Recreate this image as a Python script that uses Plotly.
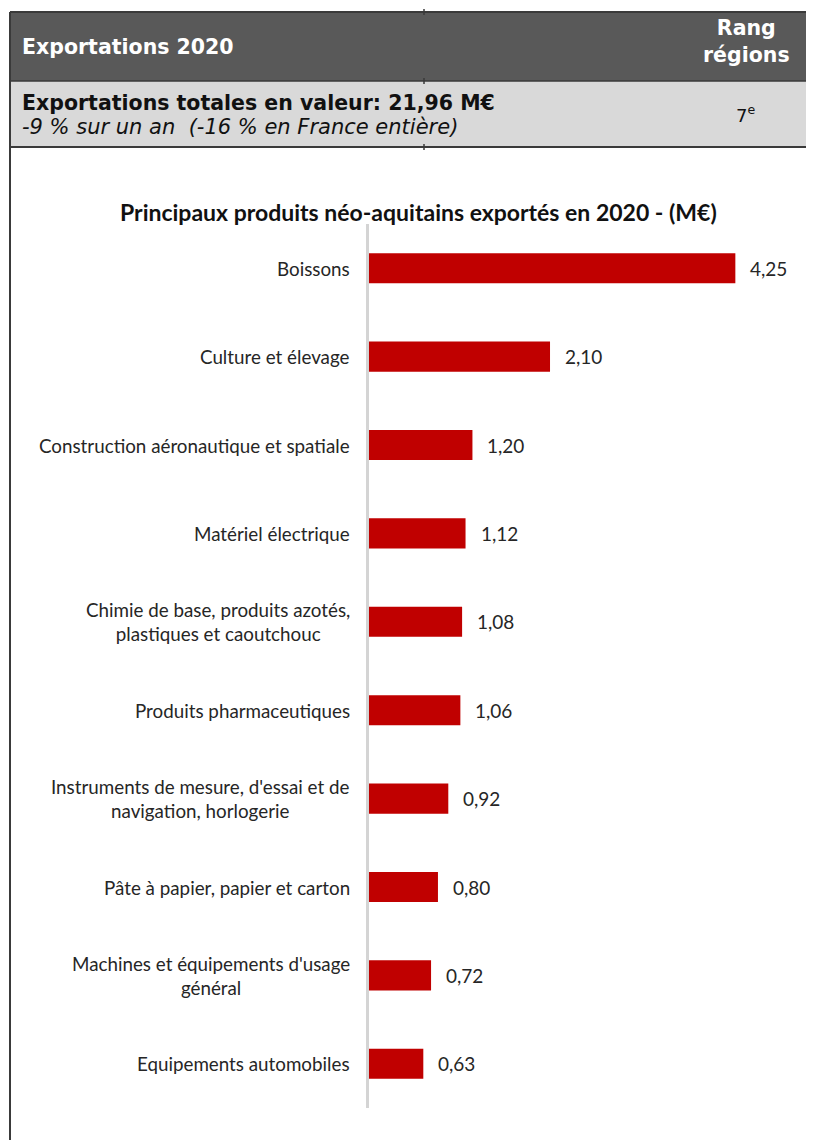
import plotly.graph_objects as go

categories = [
    "Boissons",
    "Culture et élevage",
    "Construction aéronautique et spatiale",
    "Matériel électrique",
    "Chimie de base, produits azotés,<br>plastiques et caoutchouc",
    "Produits pharmaceutiques",
    "Instruments de mesure, d'essai et de<br>navigation, horlogerie",
    "Pâte à papier, papier et carton",
    "Machines et équipements d'usage<br>général",
    "Equipements automobiles",
]
values = [4.25, 2.10, 1.20, 1.12, 1.08, 1.06, 0.92, 0.80, 0.72, 0.63]

header_title = "Exportations 2020"
header_rank = "Rang<br>régions"
total_line = "Exportations totales en valeur: 21,96 M€"
change_line = "-9 % sur un an  (-16 % en France entière)"
rank_value = "7<sup>e</sup>"
chart_title = "Principaux produits néo-aquitains exportés en 2020 - (M€)"

OFF = 8  # page body margin
W_PX, H_PX = 814 - OFF, 1140 - OFF
L, R, T, B = 369 - OFF, 14, 224 - OFF, 32
PW = W_PX - L - R
PH = H_PX - T - B


def px(x):
    return (x - OFF - L) / PW


def py(y):
    return 1 - (y - OFF - T) / PH


LABEL_FONT = "Lato, Carlito, Calibri, sans-serif"
HEAD_FONT = "DejaVu Sans, Verdana, sans-serif"

fig = go.Figure(
    go.Bar(
        x=values,
        y=categories,
        orientation="h",
        marker=dict(color="#C00000", line=dict(width=0)),
        width=0.34,
        hoverinfo="skip",
    )
)

annotations = []
for c, v in zip(categories, values):
    annotations.append(dict(
        x=v, y=c, xref="x", yref="y", text=f"{v:.2f}".replace(".", ","),
        xanchor="left", yanchor="middle", xshift=13, showarrow=False,
        font=dict(family=LABEL_FONT, size=19, color="#262626"),
    ))
    annotations.append(dict(
        x=px(352), y=c, xref="paper", yref="y", text=c,
        xanchor="right", yanchor="middle", align="center", showarrow=False,
        font=dict(family=LABEL_FONT, size=18.8, color="#262626"),
    ))

# header texts
annotations += [
    dict(x=px(20), y=py(47), xref="paper", yref="paper", text=f"<b>{header_title}</b>",
         xanchor="left", yanchor="middle", showarrow=False,
         font=dict(family=HEAD_FONT, size=20.5, color="white")),
    dict(x=px(746), y=py(41), xref="paper", yref="paper", text=f"<b>{header_rank}</b>",
         xanchor="center", yanchor="middle", showarrow=False, align="center",
         font=dict(family=HEAD_FONT, size=20.5, color="white")),
    dict(x=px(20), y=py(103), xref="paper", yref="paper", text=f"<b>{total_line}</b>",
         xanchor="left", yanchor="middle", showarrow=False,
         font=dict(family=HEAD_FONT, size=20.5, color="#111111")),
    dict(x=px(20), y=py(127), xref="paper", yref="paper", text=f"<i>{change_line}</i>",
         xanchor="left", yanchor="middle", showarrow=False,
         font=dict(family=HEAD_FONT, size=21, color="#111111")),
    dict(x=px(745), y=py(114), xref="paper", yref="paper", text=rank_value,
         xanchor="center", yanchor="middle", showarrow=False,
         font=dict(family=HEAD_FONT, size=18, color="#111111")),
    dict(x=px(418), y=py(212), xref="paper", yref="paper", text=f"<b>{chart_title}</b>",
         xanchor="center", yanchor="middle", showarrow=False,
         font=dict(family=LABEL_FONT, size=23, color="#111111")),
]

shapes = [
    dict(type="rect", xref="paper", yref="paper", x0=px(10), x1=px(830), y0=py(12), y1=py(81),
         fillcolor="#595959", line=dict(width=0), layer="below"),
    dict(type="rect", xref="paper", yref="paper", x0=px(10), x1=px(830), y0=py(81), y1=py(147),
         fillcolor="#D9D9D9", line=dict(width=0), layer="below"),
    dict(type="line", xref="paper", yref="paper", x0=px(10), x1=px(830), y0=py(12), y1=py(12),
         line=dict(color="#3a3a3a", width=2)),
    dict(type="line", xref="paper", yref="paper", x0=px(10), x1=px(830), y0=py(81), y1=py(81),
         line=dict(color="#3a3a3a", width=1.5)),
    dict(type="line", xref="paper", yref="paper", x0=px(10), x1=px(830), y0=py(147), y1=py(147),
         line=dict(color="#3a3a3a", width=2)),
    dict(type="line", xref="paper", yref="paper", x0=px(10), x1=px(10), y0=py(12), y1=py(1150),
         line=dict(color="#3a3a3a", width=2)),
]
for yy in (12, 81, 147):
    shapes.append(dict(type="line", xref="paper", yref="paper", x0=px(424), x1=px(424),
                       y0=py(yy - 3), y1=py(yy + 3), line=dict(color="#3a3a3a", width=1.5)))

fig.update_layout(
    width=W_PX, height=H_PX,
    margin=dict(l=L, r=R, t=T, b=B),
    paper_bgcolor="white", plot_bgcolor="white",
    showlegend=False,
    bargap=0.66,
    xaxis=dict(range=[0, 5.0], showgrid=False, zeroline=False, showticklabels=False,
               showline=False, fixedrange=True),
    yaxis=dict(autorange="reversed", showgrid=False, zeroline=False, showticklabels=False,
               showline=True, linecolor="#D4D4D4", linewidth=3, ticks="", fixedrange=True),
    annotations=annotations,
    shapes=shapes,
)

fig.write_html("out.html")
